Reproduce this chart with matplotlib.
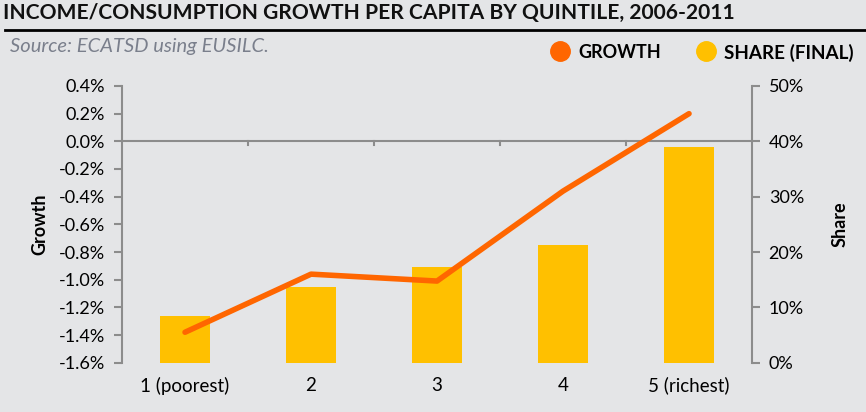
import matplotlib.pyplot as plt
from matplotlib.lines import Line2D
from matplotlib.ticker import FuncFormatter, MultipleLocator

# Data
quintiles = ['1 (poorest)', '2', '3', '4', '5 (richest)']
growth = [-1.38, -0.96, -1.01, -0.36, 0.20]   # % per capita
share = [8.5, 13.6, 17.2, 21.2, 38.9]          # % of final total

BG = '#e4e5e7'
ORANGE = '#ff6600'
YELLOW = '#ffc000'
AXIS_GRAY = '#8c8c8c'

plt.rcParams['font.family'] = ['Lato', 'DejaVu Sans']

fig = plt.figure(figsize=(8.66, 4.12), dpi=100, facecolor=BG)

# Title with rule beneath
fig.text(0.004, 0.968, 'INCOME/CONSUMPTION GROWTH PER CAPITA BY QUINTILE, 2006-2011',
         fontsize=15.1, fontweight='bold', color='#111111', va='center')
fig.add_artist(Line2D([0.006, 1.0], [0.928, 0.928], color='black', lw=2))
fig.text(0.012, 0.888, 'Source: ECATSD using EUSILC.', fontsize=14.5,
         style='italic', color='#7a7f8c', va='center')

# Legend
fig.add_artist(Line2D([0.647], [0.876], marker='o', ms=14, color=ORANGE, lw=0))
fig.text(0.668, 0.872, 'GROWTH', fontsize=13, fontweight='bold', va='center')
fig.add_artist(Line2D([0.815], [0.876], marker='o', ms=14, color=YELLOW, lw=0))
fig.text(0.836, 0.872, 'SHARE (FINAL)', fontsize=13.6, fontweight='bold', va='center')

ax = fig.add_axes([0.1409, 0.1197, 0.7275, 0.6716])
ax.set_facecolor(BG)
ax2 = ax.twinx()

x = list(range(len(quintiles)))

# Bars on the share axis
ax2.bar(x, share, width=0.4, color=YELLOW, zorder=1)
ax2.set_ylim(0, 50)
ax2.yaxis.set_major_locator(MultipleLocator(10))
ax2.yaxis.set_major_formatter(FuncFormatter(lambda v, p: f'{v:.0f}%'))
ax2.set_ylabel('Share', fontsize=13, fontweight='bold', labelpad=20)

# Growth line drawn over the bars
ax.set_zorder(ax2.get_zorder() + 1)
ax.patch.set_visible(False)
ax.plot(x, growth, color=ORANGE, lw=4, solid_capstyle='round', solid_joinstyle='round')
ax.set_ylim(-1.6, 0.4)
ax.set_xlim(-0.5, 4.5)
ax.yaxis.set_major_locator(MultipleLocator(0.2))
ax.yaxis.set_major_formatter(FuncFormatter(lambda v, p: f'{v:.1f}%'))
ax.set_ylabel('Growth', fontsize=13, fontweight='bold', labelpad=8)

# Category axis sits on the zero line; labels go at the bottom
ax.axhline(0, color=AXIS_GRAY, lw=1.5, zorder=0)
for b in [0.5, 1.5, 2.5, 3.5]:
    ax.plot([b, b], [0, -0.03], color=AXIS_GRAY, lw=1.5, clip_on=False)
ax.set_xticks(x)
ax.set_xticklabels(quintiles)
ax.tick_params(axis='x', length=0, labelsize=13.5, pad=10)

for a in (ax, ax2):
    for s in ('top', 'bottom'):
        a.spines[s].set_visible(False)
ax.spines['right'].set_visible(False)
ax2.spines['left'].set_visible(False)
ax.spines['left'].set_color(AXIS_GRAY)
ax.spines['left'].set_linewidth(1.5)
ax2.spines['right'].set_color(AXIS_GRAY)
ax2.spines['right'].set_linewidth(1.5)
ax.tick_params(axis='y', color=AXIS_GRAY, width=1.5, length=6, labelsize=13, pad=6)
ax2.tick_params(axis='y', color=AXIS_GRAY, width=1.5, length=6, labelsize=13, pad=6)

fig.savefig('out.png', dpi=100, facecolor=BG)
